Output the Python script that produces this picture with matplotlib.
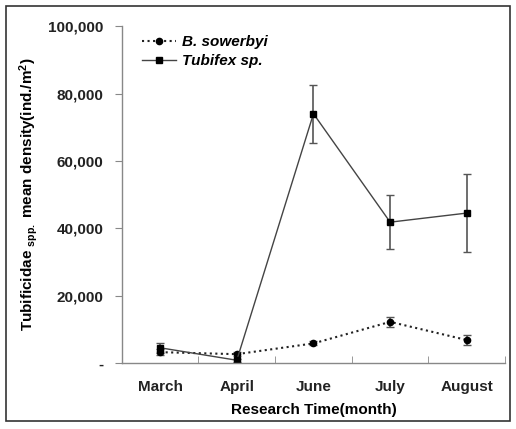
import numpy as np
import matplotlib.pyplot as plt
from matplotlib.ticker import FuncFormatter
from matplotlib.patches import Rectangle

plt.rcParams['font.family'] = ['Liberation Sans', 'DejaVu Sans']
plt.rcParams['mathtext.fontset'] = 'custom'
plt.rcParams['mathtext.rm'] = 'Liberation Sans:bold'
plt.rcParams['mathtext.it'] = 'Liberation Sans:bold'
plt.rcParams['mathtext.bf'] = 'Liberation Sans:bold'

months = ["March", "April", "June", "July", "August"]
sowerbyi = [3200, 2600, 5800, 12200, 6800]
sowerbyi_err = [900, 600, 600, 1500, 1500]
tubifex = [4500, 800, 74000, 41800, 44500]
tubifex_err = [1500, 500, 8600, 8000, 11600]

fig = plt.figure(figsize=(5.16, 4.29), dpi=100)
ax = fig.add_axes([0.236, 0.154, 0.743, 0.785])
x = np.arange(len(months))

# error bars first, lines and markers on top
ax.errorbar(x, sowerbyi, yerr=sowerbyi_err, fmt='none', ecolor='#555555',
            elinewidth=1.2, capsize=3, capthick=1.0)
ax.errorbar(x, tubifex, yerr=tubifex_err, fmt='none', ecolor='#555555',
            elinewidth=1.2, capsize=3, capthick=1.0)
ax.plot(x, sowerbyi, linestyle=':', linewidth=1.5, color='#222222',
        marker='o', ms=4.5, mfc='black', mec='black', label='B. sowerbyi')
ax.plot(x, tubifex, linestyle='-', linewidth=1.0, color='#444444',
        marker='s', ms=4.5, mfc='black', mec='black', label='Tubifex sp.')

ax.set_xlim(-0.5, len(months) - 0.5)
ax.set_ylim(0, 100000)
ax.set_yticks(np.arange(0, 100001, 20000))
ax.yaxis.set_major_formatter(FuncFormatter(lambda v, p: '-' if v == 0 else f"{int(v):,}"))
ax.set_xticks(x)
ax.set_xticklabels(months)
ax.set_xticks(np.arange(-0.5, len(months), 1), minor=True)
ax.tick_params(axis='x', which='major', length=0, pad=12)
ax.tick_params(axis='x', which='minor', length=5, color='#888888', direction='in')
ax.tick_params(axis='y', length=5, color='#888888', pad=8)
ax.tick_params(labelsize=11)
for lab in ax.get_xticklabels() + ax.get_yticklabels():
    lab.set_fontweight('bold')
    lab.set_color('#222222')

for s in ['top', 'right']:
    ax.spines[s].set_visible(False)
for s in ['left', 'bottom']:
    ax.spines[s].set_color('#888888')
    ax.spines[s].set_linewidth(1.0)

ax.set_xlabel("Research Time(month)", fontsize=11, fontweight='bold', labelpad=7)
ax.set_ylabel(r"Tubificidae $_{\mathrm{spp.}}$ mean density(ind./m$^{2}$)",
              fontsize=11, fontweight='bold', labelpad=6)

leg = ax.legend(loc='upper left', bbox_to_anchor=(0.03, 1.0), frameon=False,
                prop={'size': 11, 'style': 'italic', 'weight': 'bold'},
                handlelength=2.2, handletextpad=0.4, labelspacing=0.3,
                borderaxespad=0.2)

fig.patches.append(Rectangle((0.012, 0.018), 0.976, 0.967, transform=fig.transFigure,
                             fill=False, edgecolor='#333333', linewidth=1.2))

fig.savefig("out.png", dpi=100)
